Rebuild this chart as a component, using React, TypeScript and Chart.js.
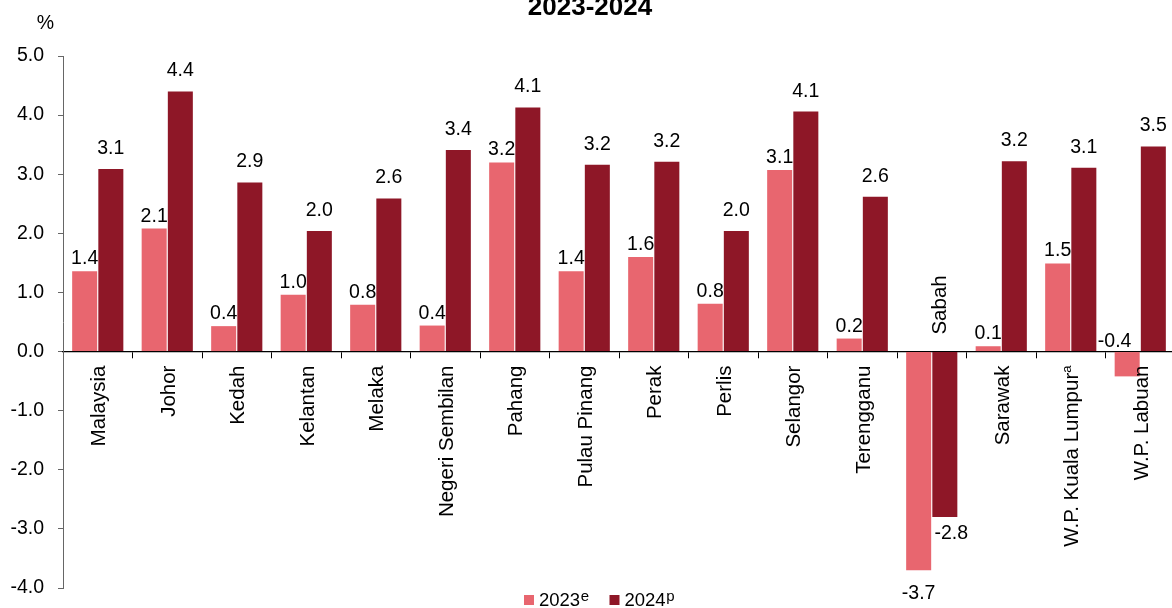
import { useEffect, useRef } from 'react';
import { Chart, registerables } from 'chart.js';

Chart.register(...registerables);

// ---------- data ----------
const chartTitle = '2023-2024';
const yUnit = '%';
const categories = [
  'Malaysia',
  'Johor',
  'Kedah',
  'Kelantan',
  'Melaka',
  'Negeri Sembilan',
  'Pahang',
  'Pulau Pinang',
  'Perak',
  'Perlis',
  'Selangor',
  'Terengganu',
  'Sabah',
  'Sarawak',
  'W.P. Kuala Lumpur^a',
  'W.P. Labuan',
];
const seriesNames = ['2023^e', '2024^p'];
const values2023 = [1.36, 2.08, 0.43, 0.96, 0.79, 0.44, 3.2, 1.36, 1.6, 0.81, 3.07, 0.22, -3.7, 0.09, 1.49, -0.42];
const values2024 = [3.09, 4.4, 2.86, 2.04, 2.59, 3.41, 4.13, 3.16, 3.21, 2.04, 4.06, 2.62, -2.8, 3.22, 3.11, 3.47];
const yMin = -4;
const yMax = 5;
const yStep = 1;

// ---------- styles ----------
const FONT = "'Liberation Sans', Arial, Helvetica, sans-serif";
const colors = ['#E8666F', '#8E1727'];
const labelStyle = [
  { gapPos: 7, gapNeg: 17, dxNeg: 0 },
  { gapPos: 15, gapNeg: 10, dxNeg: 6.5 },
];
const W = 1180;
const H = 608;

function splitSup(s: string) {
  const parts = s.split('^');
  return { main: parts[0], sup: parts[1] || '' };
}

const overlayPlugin = {
  id: 'overlay',
  afterDraw(chart: any) {
    const ctx = chart.ctx as CanvasRenderingContext2D;
    const xs = chart.scales.x;
    const ys = chart.scales.y;
    const zero = ys.getPixelForValue(0);
    ctx.save();
    ctx.fillStyle = '#000';

    // title
    ctx.font = `bold 26px ${FONT}`;
    ctx.textAlign = 'center';
    ctx.textBaseline = 'alphabetic';
    ctx.fillText(chartTitle, chart.width / 2, 15);

    // unit
    ctx.font = `19.5px ${FONT}`;
    ctx.fillText(yUnit, 45.5, 29);

    // category labels
    categories.forEach((c, i) => {
      const x = xs.getPixelForValue(i);
      const allNeg = chart.data.datasets.every((d: any) => d.data[i] < 0);
      const { main, sup } = splitSup(c);
      ctx.save();
      ctx.translate(allNeg ? x + 14 : x + 7.5, allNeg ? zero - 17 : zero + 14);
      ctx.rotate(-Math.PI / 2);
      ctx.textAlign = 'left';
      ctx.textBaseline = 'alphabetic';
      ctx.font = `20.5px ${FONT}`;
      const mw = ctx.measureText(main).width;
      ctx.font = `13px ${FONT}`;
      const sw = sup ? ctx.measureText(sup).width : 0;
      const start = allNeg ? 0 : -(mw + sw);
      ctx.font = `20.5px ${FONT}`;
      ctx.fillText(main, start, 0);
      if (sup) {
        ctx.font = `13px ${FONT}`;
        ctx.fillText(sup, start + mw, -7);
      }
      ctx.restore();
    });

    // data labels
    ctx.font = `19.5px ${FONT}`;
    ctx.textAlign = 'center';
    chart.data.datasets.forEach((ds: any, di: number) => {
      const meta = chart.getDatasetMeta(di);
      const st = labelStyle[di];
      meta.data.forEach((bar: any, i: number) => {
        const v = ds.data[i] as number;
        const txt = v.toFixed(1);
        const p = bar.getProps(['x', 'y', 'base', 'width'], true);
        if (v >= 0) {
          ctx.textBaseline = 'alphabetic';
          ctx.fillText(txt, p.x, p.y - st.gapPos);
        } else if (p.y - p.base < 30) {
          ctx.textBaseline = 'alphabetic';
          ctx.fillText(txt, p.x - p.width / 2, p.base - 5.3);
        } else {
          ctx.textBaseline = 'top';
          ctx.fillText(txt, p.x + st.dxNeg, p.y + st.gapNeg - 3.6);
        }
      });
    });

    // legend
    let lx = 524;
    ctx.textAlign = 'left';
    ctx.textBaseline = 'alphabetic';
    chart.data.datasets.forEach((ds: any, di: number) => {
      ctx.fillStyle = ds.backgroundColor;
      ctx.fillRect(lx, 595, 10, 10);
      lx += 15;
      const { main, sup } = splitSup(seriesNames[di]);
      ctx.fillStyle = '#000';
      ctx.font = `18.5px ${FONT}`;
      ctx.fillText(main, lx, 606);
      lx += ctx.measureText(main).width;
      ctx.font = `15px ${FONT}`;
      ctx.fillText(sup, lx + 0.5, 601);
      lx += ctx.measureText(sup).width + 21;
    });

    ctx.restore();
  },
};

export default function App() {
  const ref = useRef<HTMLCanvasElement | null>(null);

  useEffect(() => {
    if (!ref.current) return;
    Chart.defaults.font.family = FONT;
    const chart = new Chart(ref.current, {
      type: 'bar',
      data: {
        labels: categories.map((c) => c.replace('^', '')),
        datasets: [
          {
            label: seriesNames[0].replace('^', ''),
            data: values2023,
            backgroundColor: colors[0],
            borderWidth: 0,
            barPercentage: 0.956,
            categoryPercentage: 0.753,
          },
          {
            label: seriesNames[1].replace('^', ''),
            data: values2024,
            backgroundColor: colors[1],
            borderWidth: 0,
            barPercentage: 0.956,
            categoryPercentage: 0.753,
          },
        ],
      },
      options: {
        animation: false,
        responsive: false,
        maintainAspectRatio: false,
        layout: { padding: { left: 0, right: 5, top: 56, bottom: 20 } },
        plugins: {
          legend: { display: false },
          title: { display: false },
          tooltip: { enabled: false },
        },
        scales: {
          x: {
            type: 'category',
            position: { y: 0 } as any,
            offset: true,
            ticks: { display: false },
            grid: {
              display: true,
              offset: true,
              drawOnChartArea: false,
              drawTicks: true,
              tickLength: 6,
              color: '#000',
              lineWidth: 1,
            },
            border: { display: true, color: '#000', width: 1.3 },
            afterFit: (s: any) => {
              s.height = 0;
            },
          },
          y: {
            min: yMin,
            max: yMax,
            ticks: {
              stepSize: yStep,
              color: '#000',
              font: { size: 19.5, family: FONT },
              padding: 14,
              callback: (v: any) => Number(v).toFixed(1),
            },
            grid: {
              drawOnChartArea: false,
              drawTicks: true,
              tickLength: 5,
              color: '#666',
              lineWidth: 1,
            },
            border: { display: true, color: '#666', width: 1 },
            afterFit: (s: any) => {
              s.width = 63;
              s.paddingTop = 0;
              s.paddingBottom = 0;
            },
          },
        },
      },
      plugins: [overlayPlugin],
    });
    return () => chart.destroy();
  }, []);

  return (
    <div style={{ position: 'fixed', left: 0, top: 0, width: W, height: H, background: '#fff' }}>
      <canvas ref={ref} width={W} height={H} style={{ width: W, height: H, display: 'block' }} />
    </div>
  );
}
